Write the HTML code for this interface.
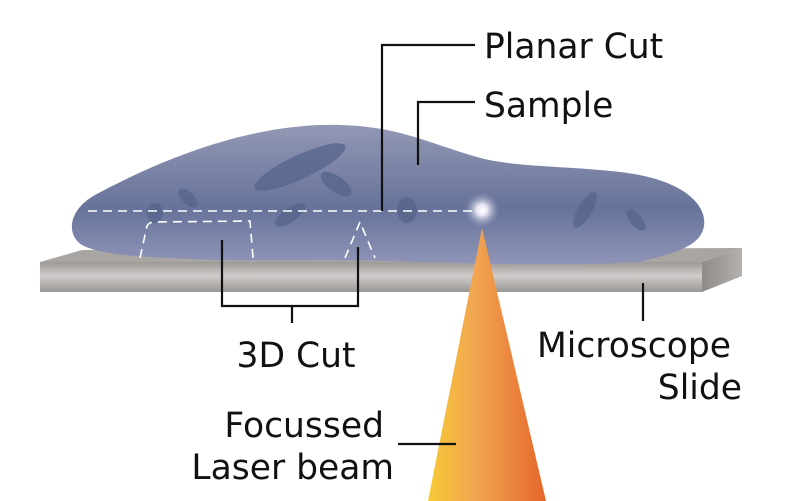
<!DOCTYPE html>
<html><head><style>
html,body{margin:0;padding:0;background:#fff;width:785px;height:501px;overflow:hidden}
text{font-family:"DejaVu Sans","Liberation Sans",sans-serif;font-size:34.5px;fill:#111}
</style></head><body>
<svg width="785" height="501" viewBox="0 0 785 501" xmlns="http://www.w3.org/2000/svg">
<defs>
<linearGradient id="slf" x1="0" y1="0" x2="0" y2="1">
<stop offset="0" stop-color="#9c9896"/><stop offset="0.45" stop-color="#cfcccb"/><stop offset="1" stop-color="#9b9795"/>
</linearGradient>
<linearGradient id="slr" x1="0" y1="0" x2="1" y2="0">
<stop offset="0" stop-color="#8f8b89"/><stop offset="1" stop-color="#b4b0ae"/>
</linearGradient>
<linearGradient id="blob" x1="0" y1="0" x2="0" y2="1">
<stop offset="0" stop-color="#9398b4"/><stop offset="0.6" stop-color="#67739a"/><stop offset="1" stop-color="#8f95b8"/>
</linearGradient>
<linearGradient id="cone" x1="0" y1="0" x2="1" y2="0">
<stop offset="0" stop-color="#f6c935"/><stop offset="0.4" stop-color="#f2a552"/><stop offset="1" stop-color="#e4672a"/>
</linearGradient>
<radialGradient id="glow"><stop offset="0" stop-color="#fff"/><stop offset="0.3" stop-color="#e8e8f4"/><stop offset="1" stop-color="#8a90b2" stop-opacity="0"/></radialGradient>
</defs>
<polygon points="40,262 82,250 742,248 702,262" fill="#a9a5a3"/>
<rect x="40" y="262" width="662" height="30" fill="url(#slf)"/>
<polygon points="702,262 742,248 742,276 702,292" fill="url(#slr)"/>
<path d="M82,245 C66,235 68,210 95,195 C160,160 240,128 320,125 C390,123 420,140 470,155 C510,168 560,165 620,172 C690,180 710,210 703,230 C698,245 680,252 640,262 C560,266 500,264 420,262 C320,258 250,263 170,258 C120,256 95,252 82,245 Z" fill="url(#blob)"/>
<g fill="#56648c" opacity="0.75">
<ellipse cx="300" cy="167" rx="50" ry="12" transform="rotate(-25 300 167)"/>
<ellipse cx="336" cy="184" rx="18" ry="8" transform="rotate(35 336 184)"/>
<ellipse cx="188" cy="198" rx="12" ry="6" transform="rotate(45 188 198)"/>
<ellipse cx="155" cy="213" rx="8" ry="10"/>
<ellipse cx="290" cy="215" rx="18" ry="7" transform="rotate(-35 290 215)"/>
<ellipse cx="407" cy="210" rx="10" ry="13"/>
<ellipse cx="585" cy="210" rx="20" ry="7" transform="rotate(-60 585 210)"/>
<ellipse cx="636" cy="220" rx="13" ry="6" transform="rotate(50 636 220)"/>
</g>
<circle cx="482" cy="210" r="18" fill="url(#glow)"/>
<polygon points="482,228 428,501 546,501" fill="url(#cone)"/>
<g stroke="#fff" stroke-width="1.6" fill="none" stroke-dasharray="9,6">
<line x1="88" y1="211" x2="475" y2="211"/>
<path d="M140,258 L147,226 Q149,222 155,222 L250,221 L253,258"/>
<path d="M345,258 L360,222 L375,258"/>
</g>
<g stroke="#111" stroke-width="2.2" fill="none">
<path d="M382,211 V45 H475"/>
<path d="M418,165 V102 H475"/>
<path d="M222,240 V306 H358 V247"/>
<line x1="292" y1="306" x2="292" y2="323"/>
<line x1="643" y1="283" x2="643" y2="321"/>
<line x1="398" y1="444" x2="456" y2="444"/>
</g>
<text x="484" y="58">Planar Cut</text>
<text x="484" y="117">Sample</text>
<text x="296" y="367" text-anchor="middle">3D Cut</text>
<text x="731" y="357" text-anchor="end">Microscope</text>
<text x="742" y="399" text-anchor="end">Slide</text>
<text x="384" y="437" text-anchor="end">Focussed</text>
<text x="394" y="479" text-anchor="end">Laser beam</text>
</svg>
</body></html>
